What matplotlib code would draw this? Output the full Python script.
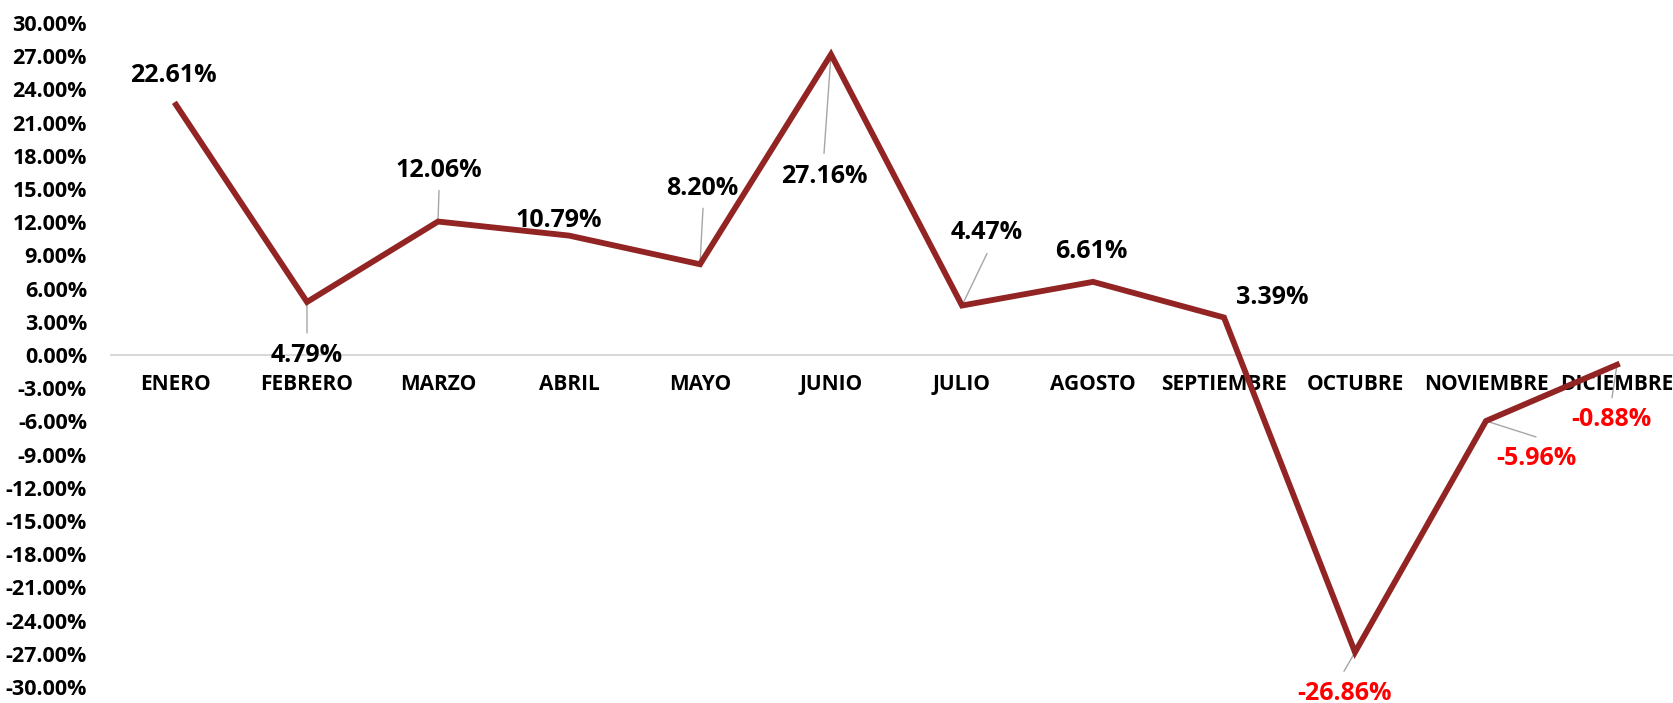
import numpy as np
import matplotlib
matplotlib.use("Agg")
import matplotlib.pyplot as plt

plt.rcParams['font.family'] = ['Open Sans', 'DejaVu Sans']
plt.rcParams['font.weight'] = 'bold'

meses = ['ENERO', 'FEBRERO', 'MARZO', 'ABRIL', 'MAYO', 'JUNIO', 'JULIO',
         'AGOSTO', 'SEPTIEMBRE', 'OCTUBRE', 'NOVIEMBRE', 'DICIEMBRE']
variacion = [22.61, 4.79, 12.06, 10.79, 8.20, 27.16, 4.47, 6.61, 3.39, -26.86, -5.96, -0.88]
y_ticks = np.arange(-30, 31, 3)

# where each data label sits, offset from its point in pixels (dx, dy)
label_offsets = [(-3, 29), (0, -54), (1, 51), (-10, 15), (2, 76), (-7, -122),
                 (25, 73), (-2, 30), (48, 20), (-11, -41), (50, -38), (-6, -55)]
# end of the grey leader line (None = no leader)
leader_ends = [None, (0, -31), (1, 31), None, (3, 56), (-7, -99),
               (25, 52), None, None, (-11, -19), (50, -16), (-5, -33)]

W, H = 1674, 703
fig = plt.figure(figsize=(W / 100, H / 100), dpi=100)
ax = fig.add_axes([110.5 / W, 16 / H, (W - 110.5) / W, 664 / H])

x = np.arange(len(meses))
ax.plot(x, variacion, color='#922424', lw=4.2, zorder=4, clip_on=False,
        solid_joinstyle='miter')

for i, v in enumerate(variacion):
    color = 'red' if v < 0 else 'black'
    dx, dy = label_offsets[i]
    ax.annotate(f'{v:.2f}%', (i, v), xytext=(dx, dy), textcoords='offset pixels',
                ha='center', va='center', fontsize=18, fontweight='bold',
                color=color, zorder=5)
    if leader_ends[i] is not None:
        ax.annotate('', (i, v), xytext=leader_ends[i], textcoords='offset pixels',
                    arrowprops=dict(arrowstyle='-', color='#a6a6a6', lw=1.0,
                                    shrinkA=0, shrinkB=0), zorder=3)

ax.set_xlim(-0.5, (W - 110.5) / 131 - 0.5)
ax.set_ylim(-30, 30)
ax.set_yticks(y_ticks)
ax.set_yticklabels([f'{t:.2f}%' for t in y_ticks])
ax.set_xticks(x)
ax.set_xticklabels(meses)

for s in ['left', 'right', 'top']:
    ax.spines[s].set_visible(False)
ax.spines['bottom'].set_position(('data', 0))
ax.spines['bottom'].set_color('#d9d9d9')
ax.spines['bottom'].set_linewidth(1.5)
ax.spines['bottom'].set_zorder(1)

ax.tick_params(axis='y', length=0, pad=17, labelsize=15.5)
ax.tick_params(axis='x', length=0, pad=14, labelsize=15)
for t in ax.get_xticklabels() + ax.get_yticklabels():
    t.set_fontweight('bold')

fig.savefig('out.png', dpi=100)
